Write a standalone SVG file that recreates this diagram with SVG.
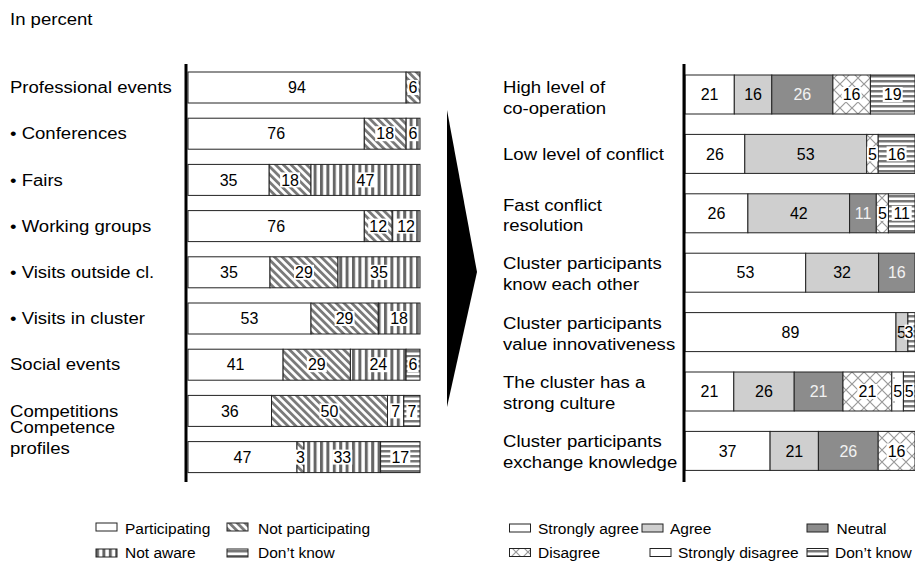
<svg xmlns="http://www.w3.org/2000/svg" width="915" height="565" viewBox="0 0 915 565">
<style>
text{font-family:"Liberation Sans",Arial,sans-serif;fill:#000}
.lab{font-size:16px}
.num{font-size:16px;text-anchor:middle}
.wn{fill:#f2f2f2}
.leg{font-size:15.5px}
.seg{stroke:#222;stroke-width:1}
.P{fill:#fff}
.NP{fill:url(#pNP)}
.NA{fill:url(#pNA)}
.DK{fill:url(#pDK)}
.A{fill:#cfcfcf}
.N{fill:#8c8c8c}
.D{fill:url(#pD)}
.SD{fill:url(#pSD)}
.bx{fill:#fff}
.axis{stroke:#000;stroke-width:3}
</style>
<defs>
<pattern id="pNP" width="5.5" height="5.5" patternUnits="userSpaceOnUse" patternTransform="rotate(-45)"><rect width="5.5" height="5.5" fill="#fff"/><rect width="2.8" height="5.5" fill="#7a7a7a"/></pattern>
<pattern id="pNA" width="6.4" height="10" patternUnits="userSpaceOnUse"><rect width="6.4" height="10" fill="#fff"/><rect width="3" height="10" fill="#666"/></pattern>
<pattern id="pDK" width="10" height="5" patternUnits="userSpaceOnUse"><rect width="10" height="5" fill="#fff"/><rect width="10" height="2.5" fill="#777"/></pattern>
<pattern id="pD" width="12" height="12" patternUnits="userSpaceOnUse"><rect width="12" height="12" fill="#fff"/><path d="M0,0L12,12M12,0L0,12" stroke="#999" stroke-width="1.2" fill="none"/></pattern>
<pattern id="pSD" width="12" height="12" patternUnits="userSpaceOnUse"><rect width="12" height="12" fill="#fff"/><circle cx="6" cy="6" r="0.8" fill="#777"/></pattern>
</defs>

<g transform="translate(10,0) scale(1.16,1)"><text class="lab" x="0" y="25">In percent</text></g>

<g id="arrow"><polygon points="447,110 477,272 447,407" fill="#000"/></g>

<g id="left-labels" transform="translate(10,0) scale(1.16,1)">
<text class="lab" x="0" y="93.5">Professional events</text>
<text class="lab" x="0" y="139.5">• Conferences</text>
<text class="lab" x="0" y="185.7">• Fairs</text>
<text class="lab" x="0" y="231.9">• Working groups</text>
<text class="lab" x="0" y="278.1">• Visits outside cl.</text>
<text class="lab" x="0" y="324.3">• Visits in cluster</text>
<text class="lab" x="0" y="370.5">Social events</text>
<text class="lab" x="0" y="416.7">Competitions</text>
<text class="lab" x="0" y="433.5">Competence</text>
<text class="lab" x="0" y="454.5">profiles</text>
</g>

<g id="right-labels" transform="translate(503,0) scale(1.16,1)">
<text class="lab" x="0" y="93.5">High level of</text>
<text class="lab" x="0" y="114">co-operation</text>
<text class="lab" x="0" y="159.7">Low level of conflict</text>
<text class="lab" x="0" y="211">Fast conflict</text>
<text class="lab" x="0" y="231.5">resolution</text>
<text class="lab" x="0" y="269.5">Cluster participants</text>
<text class="lab" x="0" y="290.5">know each other</text>
<text class="lab" x="0" y="329">Cluster participants</text>
<text class="lab" x="0" y="350">value innovativeness</text>
<text class="lab" x="0" y="388">The cluster has a</text>
<text class="lab" x="0" y="409">strong culture</text>
<text class="lab" x="0" y="447.5">Cluster participants</text>
<text class="lab" x="0" y="468.5">exchange knowledge</text>
</g>

<g id="left-chart">
<g id="l-row1">
<rect class="seg P" x="188" y="72" width="218.1" height="31"/><rect class="seg NP" x="406.1" y="72" width="13.9" height="31"/>
<text class="num" x="297" y="93.2">94</text>
<rect class="bx" x="407.5" y="80" width="11" height="15"/><text class="num" x="413" y="93.2">6</text>
</g>
<g id="l-row2">
<rect class="seg P" x="188" y="118.2" width="176.3" height="31"/><rect class="seg NP" x="364.3" y="118.2" width="41.8" height="31"/><rect class="seg NA" x="406.1" y="118.2" width="13.9" height="31"/>
<text class="num" x="276.2" y="139.4">76</text>
<rect class="bx" x="375.2" y="126.2" width="20" height="15"/><text class="num" x="385.2" y="139.4">18</text>
<rect class="bx" x="407.5" y="126.2" width="11" height="15"/><text class="num" x="413" y="139.4">6</text>
</g>
<g id="l-row3">
<rect class="seg P" x="188" y="164.4" width="81.2" height="31"/><rect class="seg NP" x="269.2" y="164.4" width="41.8" height="31"/><rect class="seg NA" x="311" y="164.4" width="109" height="31"/>
<text class="num" x="228.6" y="185.6">35</text>
<rect class="bx" x="280.1" y="172.4" width="20" height="15"/><text class="num" x="290.1" y="185.6">18</text>
<rect class="bx" x="355.5" y="172.4" width="20" height="15"/><text class="num" x="365.5" y="185.6">47</text>
</g>
<g id="l-row4">
<rect class="seg P" x="188" y="210.6" width="176.3" height="31"/><rect class="seg NP" x="364.3" y="210.6" width="27.9" height="31"/><rect class="seg NA" x="392.2" y="210.6" width="27.8" height="31"/>
<text class="num" x="276.2" y="231.8">76</text>
<rect class="bx" x="368.2" y="218.6" width="20" height="15"/><text class="num" x="378.2" y="231.8">12</text>
<rect class="bx" x="396.1" y="218.6" width="20" height="15"/><text class="num" x="406.1" y="231.8">12</text>
</g>
<g id="l-row5">
<rect class="seg P" x="188" y="256.8" width="82" height="31"/><rect class="seg NP" x="270" y="256.8" width="68" height="31"/><rect class="seg NA" x="338" y="256.8" width="82" height="31"/>
<text class="num" x="229" y="278">35</text>
<rect class="bx" x="294" y="264.8" width="20" height="15"/><text class="num" x="304" y="278">29</text>
<rect class="bx" x="369" y="264.8" width="20" height="15"/><text class="num" x="379" y="278">35</text>
</g>
<g id="l-row6">
<rect class="seg P" x="188" y="303" width="123" height="31"/><rect class="seg NP" x="311" y="303" width="67.3" height="31"/><rect class="seg NA" x="378.3" y="303" width="41.7" height="31"/>
<text class="num" x="249.5" y="324.2">53</text>
<rect class="bx" x="334.6" y="311" width="20" height="15"/><text class="num" x="344.6" y="324.2">29</text>
<rect class="bx" x="389.1" y="311" width="20" height="15"/><text class="num" x="399.1" y="324.2">18</text>
</g>
<g id="l-row7">
<rect class="seg P" x="188" y="349.2" width="95.1" height="31"/><rect class="seg NP" x="283.1" y="349.2" width="67.3" height="31"/><rect class="seg NA" x="350.4" y="349.2" width="55.7" height="31"/><rect class="seg DK" x="406.1" y="349.2" width="13.9" height="31"/>
<text class="num" x="235.6" y="370.4">41</text>
<rect class="bx" x="306.8" y="357.2" width="20" height="15"/><text class="num" x="316.8" y="370.4">29</text>
<rect class="bx" x="368.3" y="357.2" width="20" height="15"/><text class="num" x="378.3" y="370.4">24</text>
<rect class="bx" x="407.5" y="357.2" width="11" height="15"/><text class="num" x="413" y="370.4">6</text>
</g>
<g id="l-row8">
<rect class="seg P" x="188" y="395.4" width="83.5" height="31"/><rect class="seg NP" x="271.5" y="395.4" width="116" height="31"/><rect class="seg NA" x="387.5" y="395.4" width="16.3" height="31"/><rect class="seg DK" x="403.8" y="395.4" width="16.2" height="31"/>
<text class="num" x="229.8" y="416.6">36</text>
<rect class="bx" x="319.5" y="403.4" width="20" height="15"/><text class="num" x="329.5" y="416.6">50</text>
<rect class="bx" x="390.1" y="403.4" width="11" height="15"/><text class="num" x="395.6" y="416.6">7</text>
<rect class="bx" x="406.4" y="403.4" width="11" height="15"/><text class="num" x="411.9" y="416.6">7</text>
</g>
<g id="l-row9">
<rect class="seg P" x="188" y="441.6" width="109" height="31"/><rect class="seg NP" x="297" y="441.6" width="7" height="31"/><rect class="seg NA" x="304" y="441.6" width="76.6" height="31"/><rect class="seg DK" x="380.6" y="441.6" width="39.4" height="31"/>
<text class="num" x="242.5" y="462.8">47</text>
<rect class="bx" x="295" y="449.6" width="11" height="15"/><text class="num" x="300.5" y="462.8">3</text>
<rect class="bx" x="332.3" y="449.6" width="20" height="15"/><text class="num" x="342.3" y="462.8">33</text>
<rect class="bx" x="390.3" y="449.6" width="20" height="15"/><text class="num" x="400.3" y="462.8">17</text>
</g>
</g>

<g id="right-chart">
<g id="r-row1">
<rect class="seg P" x="685" y="75" width="49.3" height="39"/><rect class="seg A" x="734.3" y="75" width="37.5" height="39"/><rect class="seg N" x="771.8" y="75" width="61.1" height="39"/><rect class="seg D" x="832.9" y="75" width="37.5" height="39"/><rect class="seg DK" x="870.4" y="75" width="44.6" height="39"/>
<text class="num" x="709.6" y="100.2">21</text><text class="num" x="753.1" y="100.2">16</text><text class="num wn" x="802.3" y="100.2">26</text>
<rect class="bx" x="841.6" y="87" width="20" height="15"/><text class="num" x="851.6" y="100.2">16</text>
<rect class="bx" x="882.7" y="87" width="20" height="15"/><text class="num" x="892.7" y="100.2">19</text>
</g>
<g id="r-row2">
<rect class="seg P" x="685" y="134.4" width="59.8" height="39"/><rect class="seg A" x="744.8" y="134.4" width="121.9" height="39"/><rect class="seg D" x="866.7" y="134.4" width="11.5" height="39"/><rect class="seg DK" x="878.2" y="134.4" width="36.8" height="39"/>
<text class="num" x="714.9" y="159.6">26</text><text class="num" x="805.7" y="159.6">53</text>
<rect class="bx" x="866.9" y="146.4" width="11" height="15"/><text class="num" x="872.4" y="159.6">5</text>
<rect class="bx" x="886.6" y="146.4" width="20" height="15"/><text class="num" x="896.6" y="159.6">16</text>
</g>
<g id="r-row3">
<rect class="seg P" x="685" y="193.8" width="62.9" height="39"/><rect class="seg A" x="747.9" y="193.8" width="101.7" height="39"/><rect class="seg N" x="849.6" y="193.8" width="26.7" height="39"/><rect class="seg D" x="876.3" y="193.8" width="12.1" height="39"/><rect class="seg DK" x="888.4" y="193.8" width="26.6" height="39"/>
<text class="num" x="716.5" y="219">26</text><text class="num" x="798.8" y="219">42</text><text class="num wn" x="863" y="219">11</text>
<rect class="bx" x="876.9" y="205.8" width="11" height="15"/><text class="num" x="882.4" y="219">5</text>
<rect class="bx" x="891.7" y="205.8" width="20" height="15"/><text class="num" x="901.7" y="219">11</text>
</g>
<g id="r-row4">
<rect class="seg P" x="685" y="253.2" width="120.7" height="39"/><rect class="seg A" x="805.7" y="253.2" width="72.9" height="39"/><rect class="seg N" x="878.6" y="253.2" width="36.4" height="39"/>
<text class="num" x="745.4" y="278.4">53</text><text class="num" x="842.1" y="278.4">32</text><text class="num wn" x="896.8" y="278.4">16</text>
</g>
<g id="r-row5">
<rect class="seg P" x="685" y="312.6" width="211" height="39"/><rect class="seg A" x="896" y="312.6" width="11.9" height="39"/><rect class="seg DK" x="907.9" y="312.6" width="7.1" height="39"/>
<text class="num" x="790.5" y="337.8">89</text><text class="num" x="901.5" y="337.8">5</text>
<rect class="bx" x="904.5" y="324.6" width="9" height="15"/><text class="num" x="909" y="337.8">3</text>
</g>
<g id="r-row6">
<rect class="seg P" x="685" y="372" width="48.8" height="39"/><rect class="seg A" x="733.8" y="372" width="60.4" height="39"/><rect class="seg N" x="794.2" y="372" width="48.8" height="39"/><rect class="seg D" x="843" y="372" width="48.8" height="39"/><rect class="seg SD" x="891.8" y="372" width="11.6" height="39"/><rect class="seg DK" x="903.4" y="372" width="11.6" height="39"/>
<text class="num" x="709.4" y="397.2">21</text><text class="num" x="764" y="397.2">26</text><text class="num wn" x="818.6" y="397.2">21</text>
<rect class="bx" x="857.4" y="384" width="20" height="15"/><text class="num" x="867.4" y="397.2">21</text>
<rect class="bx" x="892.6" y="384" width="10" height="15"/><text class="num" x="897.6" y="397.2">5</text>
<rect class="bx" x="904.2" y="384" width="10" height="15"/><text class="num" x="909.2" y="397.2">5</text>
</g>
<g id="r-row7">
<rect class="seg P" x="685" y="431.4" width="85.1" height="39"/><rect class="seg A" x="770.1" y="431.4" width="48.3" height="39"/><rect class="seg N" x="818.4" y="431.4" width="59.8" height="39"/><rect class="seg D" x="878.2" y="431.4" width="36.8" height="39"/>
<text class="num" x="727.6" y="456.6">37</text><text class="num" x="794.3" y="456.6">21</text><text class="num wn" x="848.3" y="456.6">26</text>
<rect class="bx" x="886.6" y="443.4" width="20" height="15"/><text class="num" x="896.6" y="456.6">16</text>
</g>
</g>

<g id="axes">
<line class="axis" x1="186" y1="64" x2="186" y2="482"/>
<line class="axis" x1="684" y1="64" x2="684" y2="482"/>
</g>

<g id="legend-left">
<rect class="seg P" x="96" y="523" width="21" height="8"/><text class="leg" x="125" y="534">Participating</text>
<rect class="seg NP" x="227" y="523" width="21" height="8"/><text class="leg" x="258" y="534">Not participating</text>
<rect class="seg NA" x="96" y="549" width="21" height="8"/><text class="leg" x="125" y="558">Not aware</text>
<rect class="seg DK" x="227" y="549" width="21" height="8"/><text class="leg" x="258" y="558">Don’t know</text>
</g>

<g id="legend-right">
<rect class="seg P" x="509.5" y="524" width="21" height="8"/><text class="leg" x="538" y="534">Strongly agree</text>
<rect class="seg A" x="642" y="524" width="21" height="8"/><text class="leg" x="670" y="534">Agree</text>
<rect class="seg N" x="807" y="524" width="21" height="8"/><text class="leg" x="836.5" y="534">Neutral</text>
<rect class="seg D" x="509.5" y="548.5" width="21" height="8"/><text class="leg" x="538" y="558">Disagree</text>
<rect class="seg SD" x="650" y="548.5" width="21" height="8"/><text class="leg" x="678" y="558">Strongly disagree</text>
<rect class="seg DK" x="807" y="548.5" width="21" height="8"/><text class="leg" x="835" y="558">Don’t know</text>
</g>
</svg>
